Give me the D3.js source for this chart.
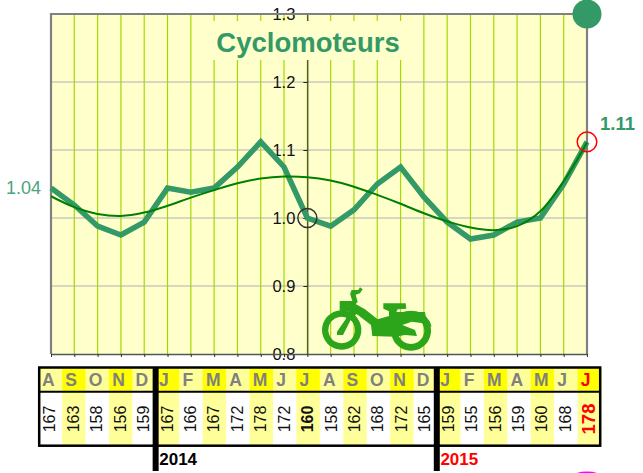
<!DOCTYPE html>
<html><head><meta charset="utf-8">
<script src="https://cdn.jsdelivr.net/npm/d3@7"></script>
<style>html,body{margin:0;padding:0;background:#fff}svg{display:block}text{font-family:"Liberation Sans",Arial,sans-serif}</style>
</head><body><svg id="c" width="643" height="473"></svg>
<script>
const months=["A","S","O","N","D","J","F","M","A","M","J","J","A","S","O","N","D","J","F","M","A","M","J","J"];
const counts=[167,163,158,156,159,167,166,167,172,178,172,160,158,162,168,172,165,159,155,156,159,160,168,178];
const ratio=[1.044,1.019,0.988,0.975,0.994,1.044,1.038,1.044,1.075,1.112,1.075,1.000,0.988,1.012,1.050,1.075,1.031,0.994,0.969,0.975,0.994,1.000,1.050,1.112];
const trend=[1.032,1.016,1.006,1.003,1.008,1.018,1.030,1.041,1.051,1.058,1.061,1.060,1.055,1.046,1.034,1.021,1.007,0.995,0.986,0.982,0.988,1.010,1.054,1.111];
const yTicks=[0.8,0.9,1.0,1.1,1.2,1.3];
const years=[{label:"2014",start:5,color:"#000"},{label:"2015",start:17,color:"#ff0000"}];
const title="Cyclomoteurs";
const idx=d3.range(months.length);
const svg=d3.select("#c");
const x=d3.scaleLinear().domain([0,23]).range([51,587]);
const y=d3.scaleLinear().domain([0.8,1.3]).range([354,14]);
const green="#339966";
svg.append("rect").attr("x",x(0)).attr("y",y(1.3)).attr("width",x(23)-x(0)).attr("height",y(.8)-y(1.3)).attr("fill","#ffffcc");
svg.append("g").selectAll("line").data(idx.slice(1,-1)).join("line").attr("x1",d=>x(d)).attr("x2",d=>x(d)).attr("y1",y(1.3)).attr("y2",y(.8)).attr("stroke","#a6d800").attr("stroke-width",1.2);
svg.append("g").selectAll("line").data(yTicks.slice(1,-1)).join("line").attr("x1",x(0)).attr("x2",x(23)).attr("y1",d=>y(d)).attr("y2",d=>y(d)).attr("stroke","#b0b0b0").attr("stroke-width",1.2);
const ax=svg.append("g").attr("transform",`translate(${x(11)},0)`).call(d3.axisLeft(y).tickValues(yTicks).tickFormat(d3.format(".1f")).tickSize(4).tickPadding(8).tickSizeOuter(0));
ax.select(".domain").attr("stroke","#222");
ax.selectAll("text").attr("font-size",16.5).attr("font-family",'"Liberation Sans"').attr("fill","#111");
ax.selectAll("line").attr("stroke","#222");
svg.append("path").attr("d",`M${x(0)},${y(.8)}V${y(1.3)}H${x(23)}V${y(.8)}`).attr("fill","none").attr("stroke","#808080").attr("stroke-width",2.2);
const bx=svg.append("g").attr("transform",`translate(0,${y(.8)})`).call(d3.axisBottom(x).tickValues(idx).tickFormat("").tickSize(3).tickSizeOuter(0));
bx.select(".domain").attr("stroke","#555").attr("stroke-width",1.5);
bx.selectAll("line").attr("stroke","#333");
svg.append("rect").attr("x",206).attr("y",21).attr("width",202).attr("height",39).attr("fill","#ffffcc");
svg.append("text").attr("x",308).attr("y",52).attr("text-anchor","middle").attr("font-size",27.5).attr("font-weight","bold").attr("fill",green).text(title);
svg.append("path").datum(ratio).attr("d",d3.line().x((d,i)=>x(i)).y(d=>y(d))).attr("fill","none").attr("stroke",green).attr("stroke-width",5.5);
svg.append("path").datum(trend).attr("d",d3.line().x((d,i)=>x(i)).y(d=>y(d)).curve(d3.curveCatmullRom)).attr("fill","none").attr("stroke","#008000").attr("stroke-width",2);
svg.append("circle").attr("cx",x(11)).attr("cy",y(ratio[11])).attr("r",9.5).attr("fill","none").attr("stroke","#333").attr("stroke-width",1.5);
svg.append("circle").attr("cx",x(23)).attr("cy",y(ratio[23])).attr("r",9.8).attr("fill","none").attr("stroke","#ff0000").attr("stroke-width",1.5);
svg.append("circle").attr("cx",x(23)).attr("cy",y(1.3)).attr("r",14.5).attr("fill",green);
svg.append("text").attr("x",6).attr("y",194).attr("font-size",18).attr("fill","#4aa57a").text(d3.format(".2f")(ratio[0]));
svg.append("text").attr("x",600).attr("y",130).attr("font-size",18.5).attr("font-weight","bold").attr("fill",green).text(d3.format(".2f")(ratio[23]));
const ic=svg.append("g").attr("transform","translate(315,280) scale(0.3333)").attr("fill","#2ca51a");
ic.append("path").attr("d","M80,91a59,59 0 1 0 .1,0ZM80,110a40,40 0 1 1 -.1,0Z").attr("fill-rule","evenodd");
ic.append("path").attr("d","M288,92a60,60 0 1 0 .1,0ZM288,112a40,40 0 1 1 -.1,0Z").attr("fill-rule","evenodd");
ic.append("path").attr("d","M106,40L110,30L130,30L135,22L143,28L135,40L122,44L128,66L122,72L150,88L188,118L222,108L222,94L205,86L205,70L272,70L274,86L248,88L244,96L330,96L332,108L345,125L350,140L325,130L290,125L262,135L300,150L306,168L270,165L240,170L172,168L168,135L125,102L108,118L84,165L66,165L66,155L92,118L100,94L74,92L74,63L112,63L106,44Z");
const cell=d3.scaleBand().domain(idx).range([38.7,601]);
const W=cell.bandwidth();
const isY=i=>i%2===1;
svg.append("g").selectAll("rect").data(idx).join("rect").attr("x",cell).attr("y",368).attr("width",W+.5).attr("height",23).attr("fill",i=>isY(i)?"#ffff00":"#ffff99");
svg.append("g").selectAll("rect").data(idx).join("rect").attr("x",cell).attr("y",392).attr("width",W+.5).attr("height",53).attr("fill",i=>isY(i)?"#ffff99":"#fff");
svg.append("g").selectAll("text").data(idx).join("text").attr("x",i=>cell(i)+3.2).attr("y",386).attr("font-size",17.5).attr("font-weight","bold").attr("fill",i=>i==23?"#ff0000":"#808080").text(i=>months[i]);
svg.append("g").selectAll("text").data(idx).join("text")
 .attr("transform",i=>`translate(${cell(i)+W/2+(i==23?6:5)},419) rotate(-90)`).attr("text-anchor","middle")
 .attr("font-size",i=>i==23?18.5:16).attr("font-weight",i=>(i==11||i==23)?"bold":"normal").attr("fill",i=>i==23?"#ff0000":"#111").text(i=>counts[i]);
svg.append("rect").attr("x",39.2).attr("y",367.5).attr("width",561).attr("height",78.2).attr("fill","none").attr("stroke","#000").attr("stroke-width",2.5);
svg.append("line").attr("x1",39).attr("x2",600).attr("y1",391.7).attr("y2",391.7).attr("stroke","#000").attr("stroke-width",2);
svg.append("g").selectAll("rect").data(years).join("rect").attr("x",d=>cell(d.start)-3.2).attr("y",367).attr("width",6).attr("height",104).attr("fill","#000");
svg.append("g").selectAll("text").data(years).join("text").attr("x",d=>cell(d.start)+3.4).attr("y",465).attr("font-size",17).attr("font-weight","bold").attr("fill",d=>d.color).text(d=>d.label);
svg.append("ellipse").attr("cx",587).attr("cy",490).attr("rx",27).attr("ry",18.5).attr("fill","#ff00ff");
</script></body></html>
